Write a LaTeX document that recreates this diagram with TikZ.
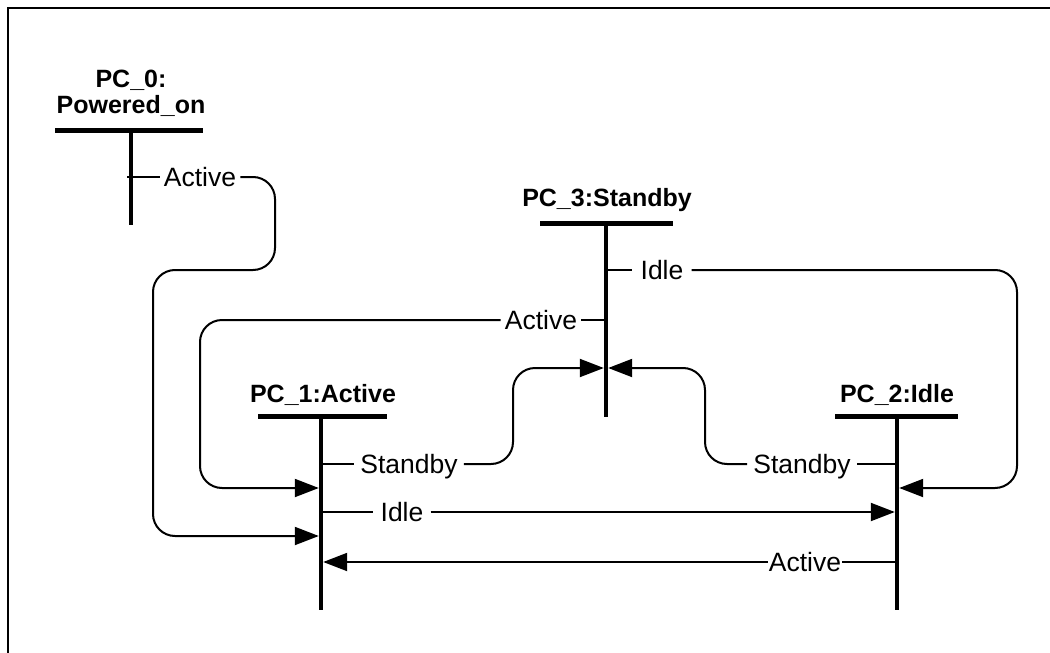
\documentclass[tikz,border=0pt]{standalone}
\usepackage{fontspec}
\setmainfont{Liberation Sans}
\usetikzlibrary{arrows.meta}

\tikzset{
  state/.style={font=\bfseries\fontsize{25}{26}\selectfont, align=center, anchor=base, inner sep=0pt},
  bar/.style={line width=5pt},
  life/.style={line width=4.5pt},
  trans/.style={line width=2pt, rounded corners=22pt},
  lbl/.style={font=\fontsize{26.5}{30}\selectfont, inner xsep=4pt, inner ysep=0pt, text height=19pt, text depth=0pt},
  fire/.style={-{Triangle[length=24pt,width=18pt]}, shorten >=2.2pt},
}

\begin{document}
\begin{tikzpicture}[x=1pt,y=-1pt]
  \useasboundingbox (0,0) rectangle (1050,653);
  \draw[line width=2pt] (8,653) -- (8,8) -- (1050,8);

  % states
  \draw
    (131,113) node[state] (t0) {PC\_0:\\Powered\_on}
    (323,402) node[state] (t1) {PC\_1:Active}
    (897,402) node[state] (t2) {PC\_2:Idle}
    (607,206) node[state] (t3) {PC\_3:Standby};
  \coordinate (s0) at (131,130);
  \coordinate (s1) at (321,416);
  \coordinate (s2) at (897,416);
  \coordinate (s3) at (606,223);
  \draw[bar] (55,130) -- (203,130);
  \draw[bar] (258,416) -- (387,416);
  \draw[bar] (835,416) -- (958,416);
  \draw[bar] (540,223) -- (673,223);
  \draw[life] (s0) -- (131,225);
  \draw[life] (s1) -- (321,610);
  \draw[life] (s2) -- (897,610);
  \draw[life] (s3) -- (606,417);

  % transitions
  \node[lbl] (a0) at (200,177) {Active};
  \node[lbl] (a3) at (541,320) {Active};
  \node[lbl, inner xsep=8pt] (i3) at (662,270) {Idle};
  \node[lbl, inner xsep=6pt] (b1) at (409,464) {Standby};
  \node[lbl, inner xsep=6pt] (b2) at (802,464) {Standby};
  \node[lbl, inner xsep=7pt] (i1) at (402,512) {Idle};
  \node[lbl, inner xsep=1pt] (a2) at (805,562) {Active};

  \draw[trans, shorten <=-4pt] (a0 -| s0) -- (a0.west);
  \draw[trans, fire] (a0.east) -- (275,177) -- (275,270) -- (153,270) -- (153,536) -- (153,536 -| s1);

  \draw[trans] (a3 -| s3) -- (a3.east);
  \draw[trans, fire] (a3.west) -- (200,320) -- (200,488) -- (200,488 -| s1);

  \draw[trans] (i3 -| s3) -- (i3.west);
  \draw[trans, fire] (i3.east) -- (1017,270) -- (1017,488) -- (1017,488 -| s2);

  \draw[trans] (b1 -| s1) -- (b1.west);
  \draw[trans, fire] (b1.east) -- (513,464) -- (513,368) -- (513,368 -| s3);

  \draw[trans] (b2 -| s2) -- (b2.east);
  \draw[trans, fire] (b2.west) -- (705,464) -- (705,368) -- (705,368 -| s3);

  \draw[trans] (i1 -| s1) -- (i1.west);
  \draw[trans, fire] (i1.east) -- (i1 -| s2);

  \draw[trans] (a2 -| s2) -- (a2.east);
  \draw[trans, fire] (a2.west) -- (a2 -| s1);
\end{tikzpicture}
\end{document}
